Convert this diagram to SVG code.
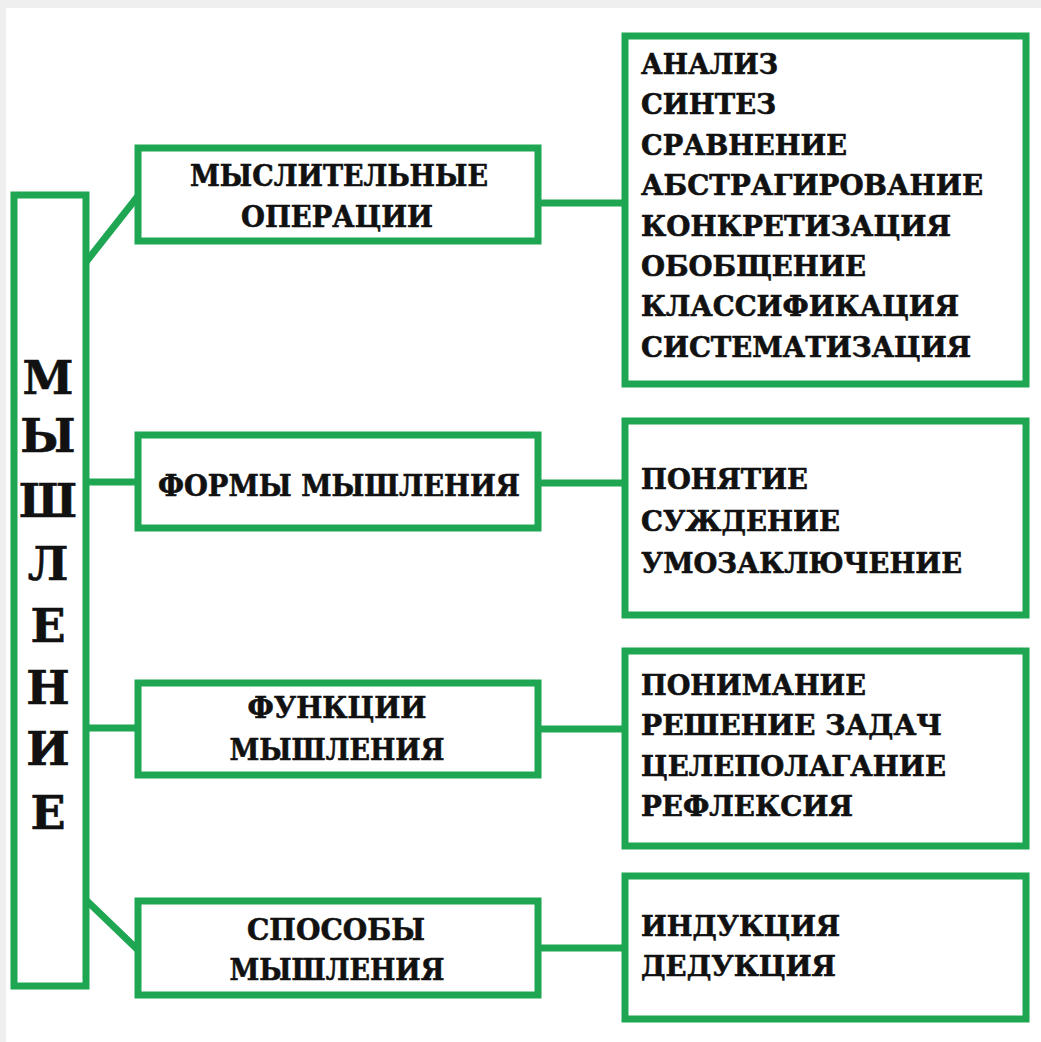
<svg xmlns="http://www.w3.org/2000/svg" width="1041" height="1042" viewBox="0 0 1041 1042">
<style>
.box{fill:#ffffff;stroke:#1fa653;stroke-width:7}
.ln{fill:none;stroke:#1fa653;stroke-width:7}
text{font-family:"DejaVu Serif","Liberation Serif",serif;font-weight:bold;fill:#111111;stroke:#111111;stroke-width:0.6}
.r{font-size:27px}
.m{font-size:29px;text-anchor:middle}
.v{font-size:46px;text-anchor:middle}
</style>
<rect x="0" y="0" width="1041" height="1042" fill="#efefef"/>
<rect x="6" y="8" width="1035" height="1034" fill="#ffffff"/>
<g id="connectors">
<line class="ln" x1="86" y1="262" x2="138" y2="196"/>
<line class="ln" x1="86" y1="482" x2="138" y2="482"/>
<line class="ln" x1="86" y1="728" x2="138" y2="728"/>
<line class="ln" x1="86" y1="900" x2="138" y2="950"/>
<line class="ln" x1="538" y1="203" x2="625" y2="203"/>
<line class="ln" x1="538" y1="483" x2="625" y2="483"/>
<line class="ln" x1="538" y1="729" x2="625" y2="729"/>
<line class="ln" x1="538" y1="948" x2="625" y2="948"/>
</g>
<g id="root">
<rect class="box" x="14" y="195" width="72" height="791"/>
<text class="v" x="48" y="394">М</text>
<text class="v" x="48" y="452">Ы</text>
<text class="v" x="48" y="517">Ш</text>
<text class="v" x="48" y="580">Л</text>
<text class="v" x="48" y="642">Е</text>
<text class="v" x="48" y="704">Н</text>
<text class="v" x="48" y="765">И</text>
<text class="v" x="48" y="829">Е</text>
</g>
<g id="ops">
<rect class="box" x="138" y="148" width="400" height="93"/>
<text class="m" x="339" y="186" textLength="298" lengthAdjust="spacingAndGlyphs">МЫСЛИТЕЛЬНЫЕ</text>
<text class="m" x="337" y="227" textLength="192" lengthAdjust="spacingAndGlyphs">ОПЕРАЦИИ</text>
</g>
<g id="forms">
<rect class="box" x="138" y="435" width="400" height="93"/>
<text class="m" x="339" y="496" textLength="362" lengthAdjust="spacingAndGlyphs">ФОРМЫ МЫШЛЕНИЯ</text>
</g>
<g id="functions">
<rect class="box" x="138" y="683" width="400" height="92"/>
<text class="m" x="337" y="718" textLength="179" lengthAdjust="spacingAndGlyphs">ФУНКЦИИ</text>
<text class="m" x="337" y="760" textLength="215" lengthAdjust="spacingAndGlyphs">МЫШЛЕНИЯ</text>
</g>
<g id="methods">
<rect class="box" x="138" y="901" width="400" height="94"/>
<text class="m" x="336" y="940" textLength="178" lengthAdjust="spacingAndGlyphs">СПОСОБЫ</text>
<text class="m" x="337" y="980" textLength="215" lengthAdjust="spacingAndGlyphs">МЫШЛЕНИЯ</text>
</g>
<g id="ops-list">
<rect class="box" x="625" y="36" width="401" height="348"/>
<text class="r" x="641" y="74" textLength="137" lengthAdjust="spacingAndGlyphs">АНАЛИЗ</text>
<text class="r" x="641" y="114" textLength="135" lengthAdjust="spacingAndGlyphs">СИНТЕЗ</text>
<text class="r" x="641" y="155" textLength="206" lengthAdjust="spacingAndGlyphs">СРАВНЕНИЕ</text>
<text class="r" x="641" y="195" textLength="342" lengthAdjust="spacingAndGlyphs">АБСТРАГИРОВАНИЕ</text>
<text class="r" x="641" y="236" textLength="310" lengthAdjust="spacingAndGlyphs">КОНКРЕТИЗАЦИЯ</text>
<text class="r" x="641" y="276" textLength="225" lengthAdjust="spacingAndGlyphs">ОБОБЩЕНИЕ</text>
<text class="r" x="641" y="316" textLength="318" lengthAdjust="spacingAndGlyphs">КЛАССИФИКАЦИЯ</text>
<text class="r" x="641" y="357" textLength="330" lengthAdjust="spacingAndGlyphs">СИСТЕМАТИЗАЦИЯ</text>
</g>
<g id="forms-list">
<rect class="box" x="625" y="421" width="401" height="194"/>
<text class="r" x="641" y="489" textLength="167" lengthAdjust="spacingAndGlyphs">ПОНЯТИЕ</text>
<text class="r" x="641" y="531" textLength="199" lengthAdjust="spacingAndGlyphs">СУЖДЕНИЕ</text>
<text class="r" x="641" y="573" textLength="321" lengthAdjust="spacingAndGlyphs">УМОЗАКЛЮЧЕНИЕ</text>
</g>
<g id="functions-list">
<rect class="box" x="625" y="651" width="401" height="195"/>
<text class="r" x="641" y="695" textLength="225" lengthAdjust="spacingAndGlyphs">ПОНИМАНИЕ</text>
<text class="r" x="641" y="735" textLength="301" lengthAdjust="spacingAndGlyphs">РЕШЕНИЕ ЗАДАЧ</text>
<text class="r" x="641" y="776" textLength="305" lengthAdjust="spacingAndGlyphs">ЦЕЛЕПОЛАГАНИЕ</text>
<text class="r" x="641" y="816" textLength="212" lengthAdjust="spacingAndGlyphs">РЕФЛЕКСИЯ</text>
</g>
<g id="methods-list">
<rect class="box" x="625" y="876" width="401" height="143"/>
<text class="r" x="641" y="936" textLength="199" lengthAdjust="spacingAndGlyphs">ИНДУКЦИЯ</text>
<text class="r" x="641" y="976" textLength="195" lengthAdjust="spacingAndGlyphs">ДЕДУКЦИЯ</text>
</g>
</svg>
